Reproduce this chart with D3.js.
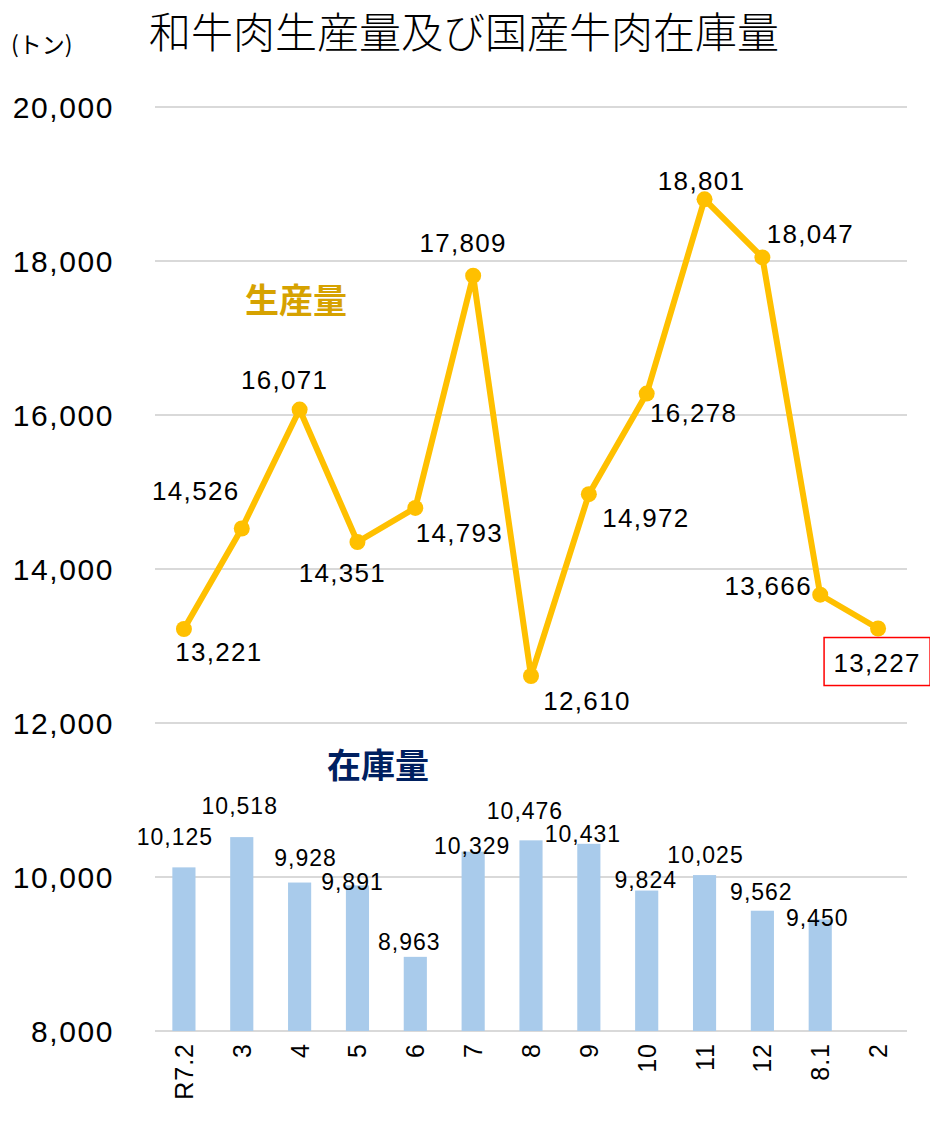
<!DOCTYPE html>
<html>
<head>
<meta charset="utf-8">
<script src="https://cdn.jsdelivr.net/npm/d3@7/dist/d3.min.js"></script>
<style>
html,body{margin:0;padding:0;background:#fff;}
svg{display:block;}
</style>
</head>
<body>
<svg id="chart" width="930" height="1122"></svg>
<script>
const categories = ["R7.2","3","4","5","6","7","8","9","10","11","12","8.1","2"];
const production = [13221,14526,16071,14351,14793,17809,12610,14972,16278,18801,18047,13666,13227];
const stock = [10125,10518,9928,9891,8963,10329,10476,10431,9824,10025,9562,9450,null];
const yTicks = [8000,10000,12000,14000,16000,18000,20000];
const titleText = "和牛肉生産量及び国産牛肉在庫量";
const unitText = "(トン)";
const seriesNames = ["生産量","在庫量"];

// label layout offsets (label centre relative to the point)
const lineLabelOffsets = [[35,23],[-46,-38],[-15,-30],[-15,31],[44,25],[-10,-33],[56,25],[57,23],[47,19],[-3,-19],[48,-24],[-52,-9],[-1,34]];
const barLabelOffsets = [[-9,-31],[-2,-31],[6,-25],[-5,-4],[-6,-15],[-1,-6],[-6,-30],[-6,-10],[-1,-11],[1,-20],[-1,-19],[-3,-2]];

const svg = d3.select("#chart");
const fmt = d3.format(",");

const x = d3.scaleBand().domain(categories).range([155,907]).paddingInner(0.6).paddingOuter(0.3);
const y = d3.scaleLinear().domain([8000,20000]).range([1031,107]);
const cx = c => x(c) + x.bandwidth()/2;

// gridlines
svg.append("g").selectAll("line").data(yTicks).join("line")
  .attr("x1",155).attr("x2",907)
  .attr("y1",d=>y(d)).attr("y2",d=>y(d))
  .attr("stroke","#d9d9d9").attr("stroke-width",2);

// y axis labels
svg.append("g").selectAll("text").data(yTicks).join("text")
  .attr("x",114).attr("y",d=>y(d)).attr("dy","0.36em")
  .attr("text-anchor","end")
  .attr("font-family","Liberation Sans, Arial, sans-serif")
  .attr("font-size",30).attr("letter-spacing","1.6px")
  .attr("fill","#000")
  .text(d=>fmt(d));

// x axis labels rotated
svg.append("g").selectAll("text").data(categories).join("text")
  .attr("transform",d=>`translate(${cx(d)},1043) rotate(-90)`)
  .attr("dy","0.36em")
  .attr("text-anchor","end")
  .attr("font-family","Liberation Sans, Arial, sans-serif")
  .attr("font-size",25).attr("letter-spacing","1px")
  .attr("fill","#000")
  .text(d=>d);

// bars
const stockData = categories.map((c,i)=>({c, v:stock[i], i})).filter(d=>d.v!=null);
svg.append("g").selectAll("rect").data(stockData).join("rect")
  .attr("x",d=>x(d.c)).attr("width",x.bandwidth())
  .attr("y",d=>y(d.v)).attr("height",d=>y(8000)-y(d.v))
  .attr("fill","#a9cbeb");

svg.append("g").selectAll("text").data(stockData).join("text")
  .attr("x",d=>cx(d.c)+barLabelOffsets[d.i][0])
  .attr("y",d=>y(d.v)+barLabelOffsets[d.i][1])
  .attr("dy","0.36em").attr("text-anchor","middle")
  .attr("font-family","Liberation Sans, Arial, sans-serif")
  .attr("font-size",23).attr("letter-spacing","1px")
  .attr("fill","#000")
  .text(d=>fmt(d.v));

// line
const prodData = categories.map((c,i)=>({c, v:production[i], i}));
svg.append("path").datum(prodData)
  .attr("d", d3.line().x(d=>cx(d.c)).y(d=>y(d.v)))
  .attr("fill","none").attr("stroke","#ffc000").attr("stroke-width",6)
  .attr("stroke-linejoin","round");
svg.append("g").selectAll("circle").data(prodData).join("circle")
  .attr("cx",d=>cx(d.c)).attr("cy",d=>y(d.v)).attr("r",8)
  .attr("fill","#ffc000");

svg.append("g").selectAll("text").data(prodData).join("text")
  .attr("x",d=>cx(d.c)+lineLabelOffsets[d.i][0])
  .attr("y",d=>y(d.v)+lineLabelOffsets[d.i][1])
  .attr("dy","0.36em").attr("text-anchor","middle")
  .attr("font-family","Liberation Sans, Arial, sans-serif")
  .attr("font-size",26).attr("letter-spacing","1.3px")
  .attr("fill","#000")
  .text(d=>fmt(d.v));

// red box around last label
const last = prodData[prodData.length-1];
const lx = cx(last.c)+lineLabelOffsets[last.i][0];
const ly = y(last.v)+lineLabelOffsets[last.i][1];
svg.append("rect")
  .attr("x",lx-53).attr("y",ly-25).attr("width",106).attr("height",48)
  .attr("fill","none").attr("stroke","#ff0000").attr("stroke-width",1.5);

// series name labels
svg.append("text").attr("x",245).attr("y",313)
  .attr("font-family","Noto Sans CJK JP, sans-serif").attr("font-weight","bold")
  .attr("font-size",34).attr("fill","#d6a200").text(seriesNames[0]);
svg.append("text").attr("x",327).attr("y",778)
  .attr("font-family","Noto Sans CJK JP, sans-serif").attr("font-weight","bold")
  .attr("font-size",34).attr("fill","#002060").text(seriesNames[1]);

// title
svg.append("text").attr("x",149).attr("y",48)
  .attr("font-family","Noto Sans CJK JP, sans-serif").attr("font-weight",300)
  .attr("font-size",42).attr("fill","#000").text(titleText);
svg.append("text").attr("x",11).attr("y",53)
  .attr("font-family","Noto Sans CJK JP, sans-serif")
  .attr("font-size",23).attr("fill","#000").text(unitText);
</script>
</body>
</html>
